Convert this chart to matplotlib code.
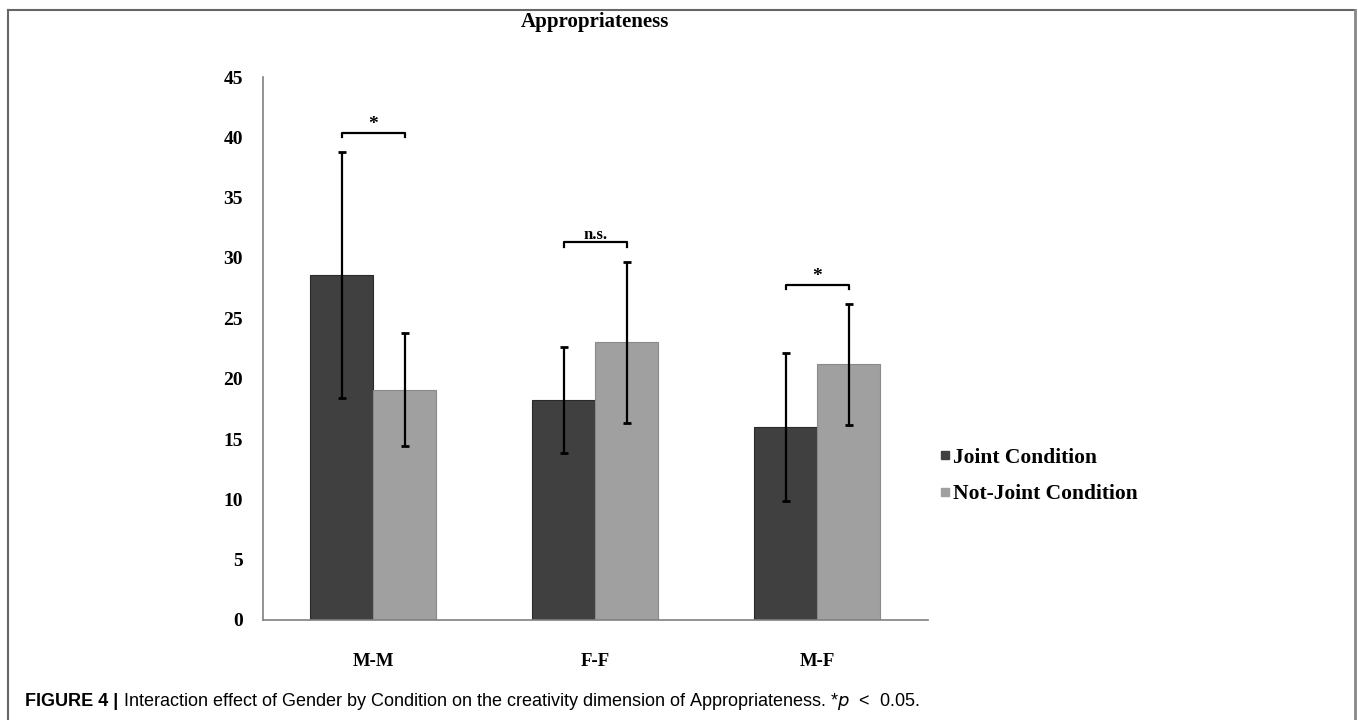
import matplotlib
matplotlib.use("Agg")
import matplotlib.pyplot as plt
import numpy as np
from matplotlib.lines import Line2D

categories = ["M-M", "F-F", "M-F"]
joint = [28.6, 18.2, 16.0]
joint_err = [10.2, 4.4, 6.1]
notjoint = [19.1, 23.0, 21.2]
notjoint_err = [4.7, 6.7, 5.0]
series_names = ["Joint Condition", "Not-Joint Condition"]
sig_labels = ["*", "n.s.", "*"]
yticks = [0, 5, 10, 15, 20, 25, 30, 35, 40, 45]

serif = ["Liberation Serif", "DejaVu Serif"]
fig = plt.figure(figsize=(13.58, 7.2), dpi=100)
ax = fig.add_axes([262.5 / 1358, 1 - 620 / 720, (928 - 262.5) / 1358, (620 - 77) / 720])

x = np.arange(len(categories))
w = 0.284
c_joint = "#404040"
c_not = "#a0a0a0"
ax.bar(x - w / 2, joint, w, color=c_joint, edgecolor="#2a2a2a", linewidth=0.8, zorder=2)
ax.bar(x + w / 2, notjoint, w, color=c_not, edgecolor="#8a8a8a", linewidth=0.8, zorder=2)
ax.errorbar(x - w / 2, joint, yerr=joint_err, fmt="none", ecolor="black", elinewidth=1.6, capsize=3, capthick=2, zorder=3)
ax.errorbar(x + w / 2, notjoint, yerr=notjoint_err, fmt="none", ecolor="black", elinewidth=1.6, capsize=3, capthick=2, zorder=3)

# significance brackets
for i, lab in enumerate(sig_labels):
    top = max(joint[i] + joint_err[i], notjoint[i] + notjoint_err[i]) + 1.6
    x0, x1 = i - w / 2, i + w / 2
    ax.plot([x0, x0, x1, x1], [top - 0.4, top, top, top - 0.4], color="black", lw=1.6, zorder=3)
    ax.text(i, top - 0.05, lab, ha="center", va="bottom", fontsize=14 if lab == "*" else 12,
            fontweight="bold", family=serif)

ax.set_xlim(-0.5, 2.5)
ax.set_ylim(0, 45)
ax.set_yticks(yticks)
ax.set_yticklabels([str(t) for t in yticks], fontsize=14, fontweight="bold", family=serif)
ax.set_xticks(x)
ax.set_xticklabels(categories, fontsize=13.5, fontweight="bold", family=serif)
ax.tick_params(axis="y", length=0, pad=14)
ax.tick_params(axis="x", length=0, pad=24)
for s in ["top", "right"]:
    ax.spines[s].set_visible(False)
for s in ["left", "bottom"]:
    ax.spines[s].set_color("#808080")
    ax.spines[s].set_linewidth(1.2)

ax.set_title("Appropriateness", fontsize=15, fontweight="bold", family=serif, pad=36)

handles = [Line2D([0], [0], marker="s", color="none", markerfacecolor=c_joint, markeredgecolor=c_joint, markersize=6),
           Line2D([0], [0], marker="s", color="none", markerfacecolor=c_not, markeredgecolor=c_not, markersize=6)]
leg = fig.legend(handles, series_names, loc="center left", bbox_to_anchor=(920 / 1358, 1 - 476 / 720),
                 frameon=False, handlelength=0.5, handletextpad=0.15, labelspacing=0.75,
                 prop={"family": serif, "weight": "bold", "size": 15.5})

# outer border
fig.add_artist(Line2D([8 / 1358, 1355 / 1358], [1 - 10 / 720, 1 - 10 / 720], color="#666666", lw=1.5))
fig.add_artist(Line2D([8 / 1358, 8 / 1358], [1 - 10 / 720, 0], color="#666666", lw=1.5))
fig.add_artist(Line2D([1355 / 1358, 1355 / 1358], [1 - 10 / 720, 0], color="#888888", lw=2))

cap_y = 1 - 702 / 720
t1 = fig.text(25 / 1358, cap_y, "FIGURE 4 | ", fontsize=13, fontweight="bold", family=["Liberation Sans", "DejaVu Sans"], va="center")
fig.canvas.draw()
bb = t1.get_window_extent()
fig.text(bb.x1 / 1358, cap_y, "Interaction effect of Gender by Condition on the creativity dimension of Appropriateness. *$p$  <  0.05.",
         fontsize=13, family=["Liberation Sans", "DejaVu Sans"], va="center")

fig.savefig("out.png", dpi=100)
